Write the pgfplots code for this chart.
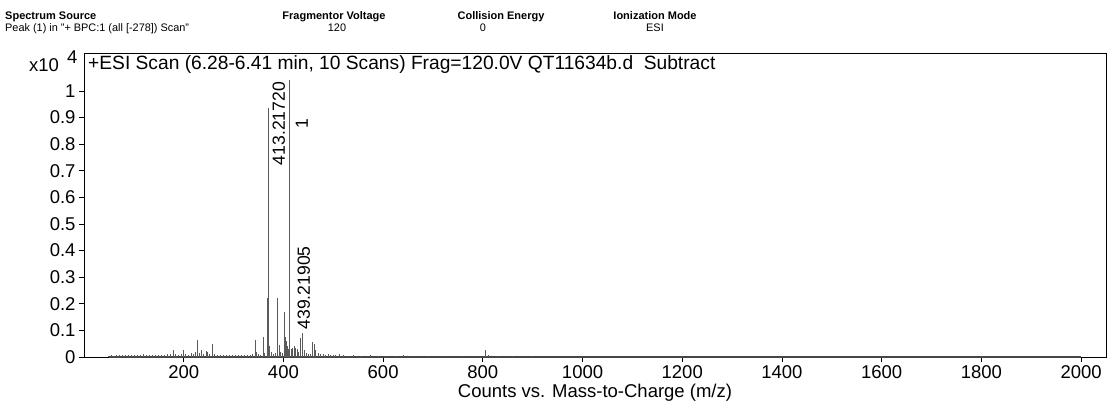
\documentclass[border=0pt]{standalone}
\usepackage{fontspec}
\setmainfont{Liberation Sans}
\usepackage{pgfplots}
\usepackage{pgfplotstable}
\pgfplotsset{compat=1.18}

\definecolor{peak}{RGB}{90,90,90}
\definecolor{base}{RGB}{70,70,70}

% m/z vs counts (x10^4)
\pgfplotstableread{
mz int
50 0.004
55 0.006
60 0.005
66 0.007
72 0.006
78 0.008
84 0.006
90 0.009
96 0.007
102 0.006
108 0.008
114 0.007
120 0.010
126 0.008
132 0.007
138 0.006
144 0.008
150 0.007
156 0.009
162 0.007
168 0.010
174 0.012
179 0.025
184 0.012
190 0.009
196 0.010
200 0.025
204 0.012
210 0.009
215 0.015
220 0.012
224 0.020
228 0.065
232 0.015
236 0.028
240 0.010
245 0.022
248 0.018
252 0.012
257 0.050
262 0.010
268 0.008
274 0.009
280 0.007
286 0.008
292 0.006
298 0.008
304 0.007
310 0.006
316 0.008
322 0.007
328 0.006
334 0.009
338 0.010
343 0.065
346 0.020
350 0.010
355 0.008
360 0.075
363 0.015
368.5 0.22
370.6 0.937
372 0.04
376 0.02
380 0.012
385 0.015
389 0.22
392 0.045
395 0.02
398 0.015
402 0.17
405 0.075
407 0.06
409 0.04
411 0.03
413.2 1.043
416 0.03
419 0.035
422 0.04
425 0.035
428 0.03
431 0.02
435 0.07
439 0.09
442 0.025
446 0.015
450 0.012
455 0.010
459 0.055
462 0.05
465 0.025
470 0.015
475 0.012
480 0.010
485 0.008
490 0.010
495 0.007
500 0.008
505 0.006
512 0.012
520 0.006
530 0.005
540 0.006
555 0.004
575 0.008
590 0.004
605 0.005
625 0.004
640 0.006
660 0.003
690 0.004
720 0.005
760 0.003
790 0.004
806 0.025
812 0.006
830 0.004
860 0.003
900 0.004
}\spectrum

\begin{document}
\begin{tikzpicture}[x=1pt,y=1pt]
\useasboundingbox (0,0) rectangle (1107,407);

% header block
\begin{scope}[every node/.style={inner sep=0pt}]
\node[anchor=base west, font=\bfseries\fontsize{11}{12}\selectfont] at (5,387) {Spectrum Source};
\node[anchor=base west, font=\fontsize{10.9}{12}\selectfont] at (5,375.5) {Peak (1) in "+ BPC:1 (all [-278]) Scan"};
\node[anchor=base, font=\bfseries\fontsize{11}{12}\selectfont] at (334,387) {Fragmentor Voltage};
\node[anchor=base, font=\fontsize{10.9}{12}\selectfont] at (337,375.5) {120};
\node[anchor=base, font=\bfseries\fontsize{11}{12}\selectfont] at (501,387) {Collision Energy};
\node[anchor=base, font=\fontsize{10.9}{12}\selectfont] at (483,375.5) {0};
\node[anchor=base, font=\bfseries\fontsize{11}{12}\selectfont] at (655,387) {Ionization Mode};
\node[anchor=base, font=\fontsize{10.9}{12}\selectfont] at (655,375.5) {ESI};
\node[anchor=base west, font=\fontsize{18.5}{20}\selectfont] at (29,335) {x10};
\node[anchor=base west, font=\fontsize{18.5}{20}\selectfont] at (67,343) {4};
\end{scope}

\begin{axis}[
    at={(84pt,50pt)}, anchor=south west,
    scale only axis,
    width=1022pt, height=304pt,
    xmin=0, xmax=2050,
    ymin=0, ymax=1.143,
    xtick={200,400,...,2000},
    ytick={0,0.1,...,1.0},
    tick align=outside,
    major tick length=5pt,
    xtick pos=bottom, ytick pos=left,
    axis line style={black, line width=0.8pt},
    tick style={black, line width=0.7pt},
    /pgf/number format/assume math mode=true,
    xticklabel style={font=\fontsize{18.5}{20}\selectfont, /pgf/number format/set thousands separator={}},
    yticklabel style={font=\fontsize{18.5}{20}\selectfont, /pgf/number format/fixed, /pgf/number format/precision=1},
    scaled x ticks=false, scaled y ticks=false,
    xlabel={Counts vs. Mass-to-Charge (m/z)},
    xlabel style={font=\fontsize{18.5}{20}\selectfont, at={(axis description cs:0.5,0)}, anchor=north, yshift=-24pt},
    clip=false,
]
\addplot[base, line width=1.6pt] coordinates {(50,0) (2000,0)};
\addplot[peak, ycomb, line width=1pt, mark=none] table[x=mz, y=int] {\spectrum};

\node[rotate=90, font=\fontsize{17.6}{20}\selectfont, inner sep=0pt] at (axis cs:391,0.878) {413.21720};
\node[rotate=90, font=\fontsize{17.6}{20}\selectfont, inner sep=0pt] at (axis cs:437,0.876) {1};
\node[rotate=90, font=\fontsize{17.6}{20}\selectfont, inner sep=0pt] at (axis cs:441,0.26) {439.21905};
\node[anchor=base west, font=\fontsize{19.2}{21}\selectfont, inner sep=0pt] at (axis cs:8,1.08) {+ESI Scan (6.28-6.41 min, 10 Scans) Frag=120.0V QT11634b.d\ \ Subtract};
\end{axis}
\end{tikzpicture}
\end{document}
